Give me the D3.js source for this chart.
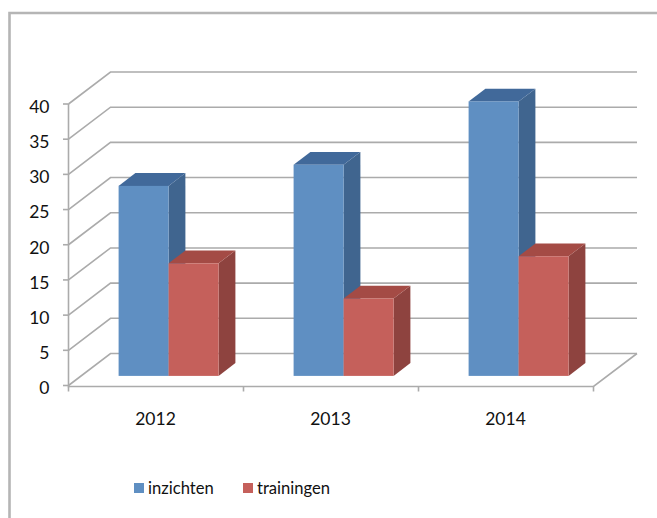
<!DOCTYPE html>
<html>
<head>
<meta charset="utf-8">
<script src="https://cdn.jsdelivr.net/npm/d3@7"></script>
<style>
  html, body { margin: 0; padding: 0; background: #fff; }
  svg { display: block; }
  text { font-family: Lato, "Open Sans", sans-serif; fill: #111; }
</style>
</head>
<body>
<svg id="chart" width="657" height="518"></svg>
<script>
// data
const years = ['2012', '2013', '2014'];
const seriesNames = ['inzichten', 'trainingen'];
const inzichten = [27, 30, 39];
const trainingen = [16, 11, 17];
const yTicks = [0, 5, 10, 15, 20, 25, 30, 35, 40];

const faceColors = {inzichten: '#5f8fc2', trainingen: '#c5605b'};
const topColors  = {inzichten: '#41699a', trainingen: '#a44b45'};
const sideColors = {inzichten: '#40658f', trainingen: '#8e433f'};
const gridColor = '#ababab';

const svg = d3.select('#chart');

const x = d3.scaleBand().domain(years).range([68.5, 593.5]);
const xInner = d3.scaleBand().domain(seriesNames).range([0, x.bandwidth()]).paddingOuter(0.75).paddingInner(0);
const y = d3.scaleLinear().domain([0, 40]).range([385.5, 104]);

// oblique projection, d = 0 is the front of the floor and d = 1 the back wall
const depthX = 42, depthY = 32;
const px = (vx, d) => vx + depthX * d;
const py = (vy, d) => vy - depthY * d;
const poly = pts => pts.map(p => p.join(',')).join(' ');

// chart frame
svg.append('path')
    .attr('d', 'M9.5,518V13H657')
    .attr('fill', 'none').attr('stroke', '#b5b5b5').attr('stroke-width', 2.6);

// walls
const grid = svg.append('g').attr('fill', 'none').attr('stroke', gridColor).attr('stroke-width', 1.6);
yTicks.forEach(t => {
    grid.append('path')
        .attr('d', `M68.5,${y(t)}L${px(68.5, 1)},${py(y(t), 1)}H637`);
    grid.append('line')
        .attr('x1', 63).attr('x2', 68.5).attr('y1', y(t)).attr('y2', y(t));
});
grid.append('line').attr('x1', 68.5).attr('x2', 68.5).attr('y1', y(40)).attr('y2', y(0) + 2);

// floor front edge and right edge
grid.append('path').attr('d', `M68.5,${y(0) + 1}H593.5L637,${py(y(0), 1)}`);
x.domain().concat('end').forEach(k => {
    const tx = k === 'end' ? x.range()[1] : x(k);
    grid.append('line').attr('x1', tx).attr('x2', tx).attr('y1', y(0) + 1).attr('y2', y(0) + 6);
});

// 3d bars
const barFront = 0.3, barBack = 0.7;
const values = {inzichten, trainingen};
years.forEach((yr, i) => {
    seriesNames.forEach(name => {
        const x0 = x(yr) + xInner(name);
        const x1 = x0 + xInner.bandwidth();
        const top = y(values[name][i]);
        const base = y(0);
        const g = svg.append('g').attr('class', 'bar');
        g.append('polygon')
            .attr('fill', sideColors[name])
            .attr('points', poly([
                [px(x1, barFront), py(top, barFront)], [px(x1, barBack), py(top, barBack)],
                [px(x1, barBack), py(base, barBack)], [px(x1, barFront), py(base, barFront)]
            ]));
        g.append('polygon')
            .attr('fill', topColors[name])
            .attr('points', poly([
                [px(x0, barFront), py(top, barFront)], [px(x0, barBack), py(top, barBack)],
                [px(x1, barBack), py(top, barBack)], [px(x1, barFront), py(top, barFront)]
            ]));
        g.append('rect')
            .attr('fill', faceColors[name])
            .attr('x', px(x0, barFront)).attr('y', py(top, barFront))
            .attr('width', x1 - x0).attr('height', base - top);
    });
});

// axis labels
svg.append('g').selectAll('text').data(yTicks).join('text')
    .attr('x', 49.5).attr('y', d => y(d) + 2.5).attr('dy', '0.36em')
    .attr('text-anchor', 'end').style('font-size', '17.5px')
    .text(d => d);

svg.append('g').selectAll('text').data(years).join('text')
    .attr('x', d => x(d) + x.bandwidth() / 2 - 0.5).attr('y', 425)
    .attr('text-anchor', 'middle').style('font-size', '17.5px')
    .text(d => d);

// legend
const legendX = d3.scaleOrdinal().domain(seriesNames).range([134, 243]);
const legend = svg.append('g').selectAll('g').data(seriesNames).join('g')
    .attr('transform', d => `translate(${legendX(d)},483)`);
legend.append('rect').attr('width', 10).attr('height', 10).attr('fill', d => faceColors[d]);
legend.append('text').attr('x', 14).attr('y', 10.5).style('font-size', '16.6px').text(d => d);
</script>
</body>
</html>
